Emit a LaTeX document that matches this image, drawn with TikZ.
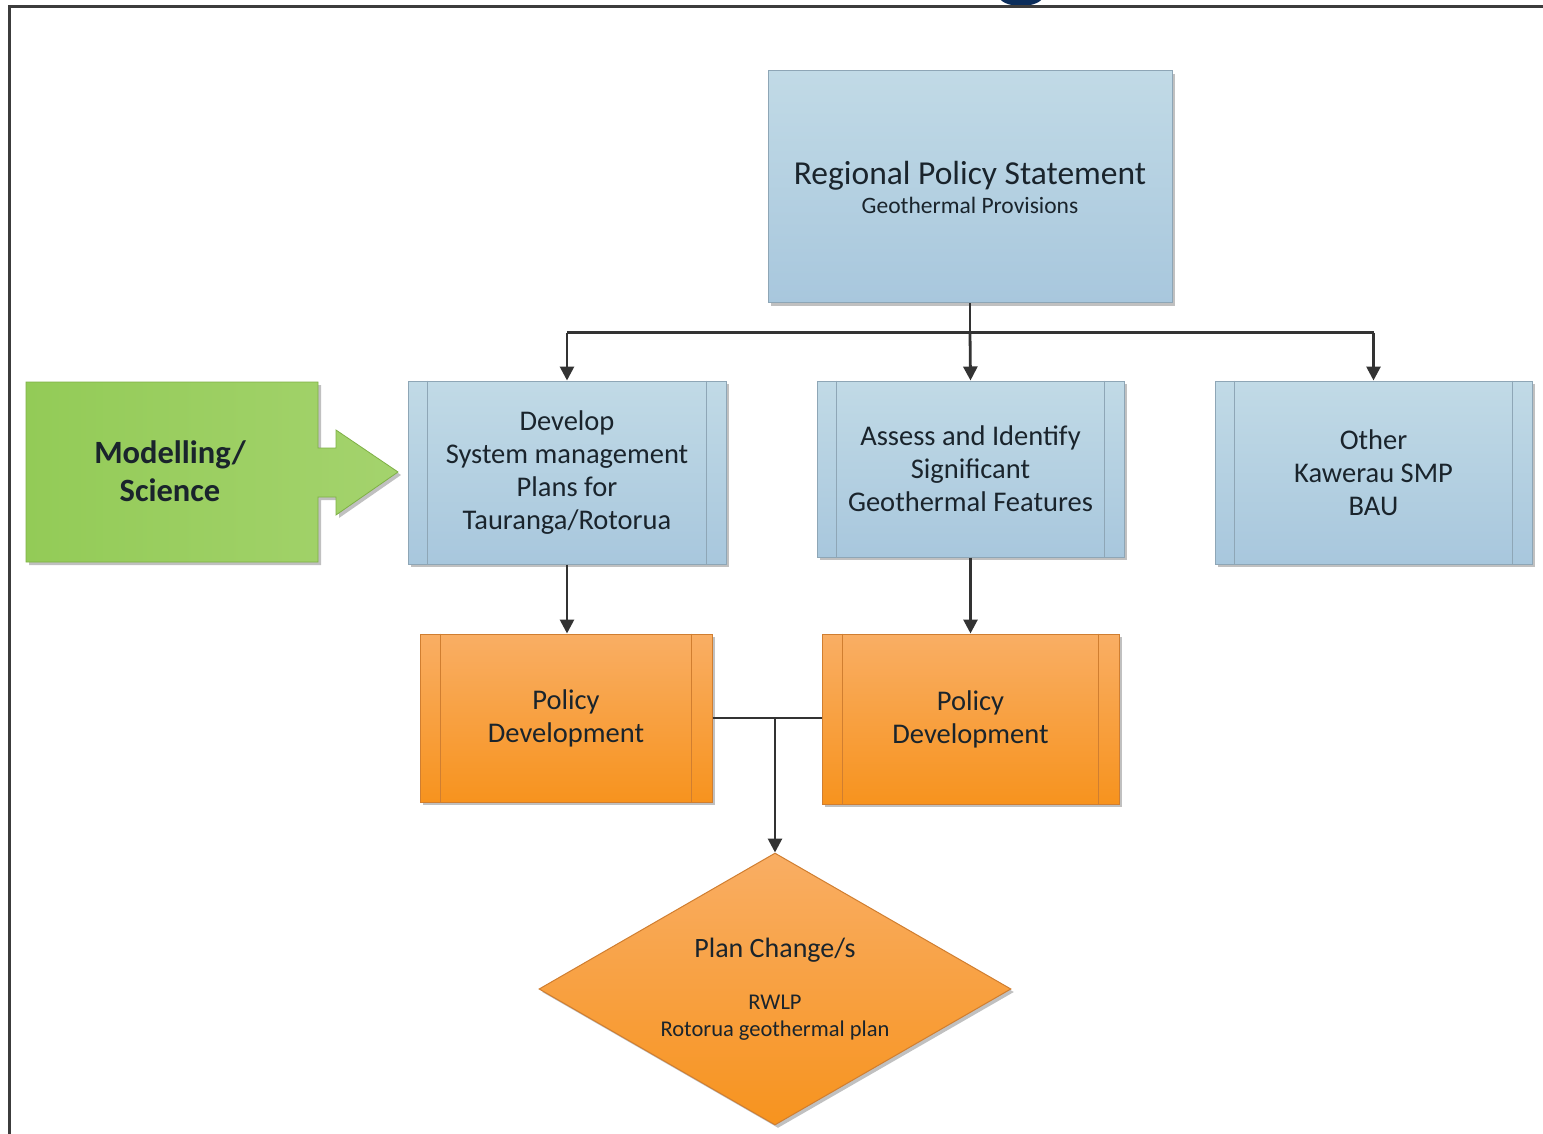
\documentclass[tikz,border=0pt]{standalone}
\usepackage{fontspec}
\setmainfont{Carlito}
\usetikzlibrary{arrows.meta,shapes.geometric,shadows,calc}
\definecolor{bluetop}{HTML}{C1DAE6}
\definecolor{bluebot}{HTML}{A8C7DD}
\definecolor{blueedge}{HTML}{8EA6B6}
\definecolor{orgtop}{HTML}{F9AE64}
\definecolor{orgbot}{HTML}{F7931E}
\definecolor{orgedge}{HTML}{D07E30}
\definecolor{grnl}{HTML}{93CB57}
\definecolor{grnr}{HTML}{A4D36D}
\definecolor{grnedge}{HTML}{7FB046}
\definecolor{txtc}{HTML}{1A242C}
\definecolor{framec}{HTML}{3C3C3C}
\definecolor{navyc}{HTML}{0B2D5B}
\definecolor{connc}{HTML}{333333}
\begin{document}
\begin{tikzpicture}[x=1pt,y=-1pt,
  shad/.style={drop shadow={shadow xshift=3pt,shadow yshift=-3pt,opacity=0.35,fill=black!70}},
  bluebox/.style={draw=blueedge,line width=1pt,top color=bluetop,bottom color=bluebot,shad,
    text=txtc,align=center,font=\fontsize{28.5}{33}\selectfont,inner sep=0pt},
  orangebox/.style={draw=orgedge,line width=1pt,top color=orgtop,bottom color=orgbot,shad,
    text=txtc,align=center,font=\fontsize{28.5}{33}\selectfont,inner sep=0pt},
  blueinner/.style={draw=blueedge,line width=1pt},
  orginner/.style={draw=orgedge,line width=1pt},
  conn/.style={draw=connc,line width=2.8pt},
  arr/.style={conn,-{Triangle[length=14pt,width=14pt]}}]
\useasboundingbox (0,0) rectangle (1543,1134);
\fill[white] (0,0) rectangle (1543,1134);
% cut-off title letter and frame
\fill[navyc] (1021,-4) ellipse [x radius=22, y radius=10];
\draw[framec,line width=3pt] (9.5,1134) -- (9.5,7) -- (1543,7);

% top box
\node[bluebox,minimum width=404pt,minimum height=232pt,font=\fontsize{23.5}{27}\selectfont] (rps) at (970,187)
  {{\fontsize{33.5}{34}\selectfont Regional Policy Statement}\\[2pt]Geothermal Provisions};

% second row
\node[bluebox,minimum width=318pt,minimum height=183pt] (dev) at (567,472.5)
  {Develop\\System management\\Plans for\\Tauranga/Rotorua};
\node[bluebox,minimum width=307pt,minimum height=176pt] (ass) at (970.5,469)
  {Assess and Identify\\Significant\\Geothermal Features};
\node[bluebox,minimum width=317pt,minimum height=183pt] (oth) at (1373.5,472.5)
  {Other\\Kawerau SMP\\BAU};
\foreach \n in {dev,ass,oth}{
  \draw[blueinner] ($(\n.north west)+(20,0)$) -- ($(\n.south west)+(20,0)$);
  \draw[blueinner] ($(\n.north east)+(-20,0)$) -- ($(\n.south east)+(-20,0)$);
}

% third row
\node[orangebox,minimum width=292pt,minimum height=168pt] (pd1) at (566,718)
  {Policy\\Development};
\node[orangebox,minimum width=297pt,minimum height=170pt] (pd2) at (970.5,719)
  {Policy\\Development};
\foreach \n in {pd1,pd2}{
  \draw[orginner] ($(\n.north west)+(21,0)$) -- ($(\n.south west)+(21,0)$);
  \draw[orginner] ($(\n.north east)+(-21,0)$) -- ($(\n.south east)+(-21,0)$);
}

% diamond
\node[diamond,draw=orgedge,line width=1pt,top color=orgtop,bottom color=orgbot,shad,
  minimum width=472pt,minimum height=272pt,inner sep=0pt] (plan) at (775,989) {};
\node[align=center,text=txtc,inner sep=0pt,font=\fontsize{22.5}{27}\selectfont] (plantext) at (plan.center)
  {{\fontsize{28}{27}\selectfont Plan Change/s}\\[25pt]RWLP\\Rotorua geothermal plan};

% green arrow
\path[left color=grnl,right color=grnr,draw=grnedge,line width=0.8pt,shad]
  (26,382) -- (318,382) -- (318,448) -- (336,448) -- (336,430) -- (398,472)
  -- (336,515) -- (336,497) -- (318,497) -- (318,562) -- (26,562) -- cycle;
\node[text=txtc,align=center,font=\bfseries\fontsize{32.5}{38}\selectfont] (mod) at (170,471)
  {Modelling/\\Science};

% connectors
\draw[conn] (rps.south) -- ($(rps.south)+(0,29)$) coordinate (bus);
\draw[conn] (dev.north |- bus) -- (oth.north |- bus);
\draw[arr] (bus) -- (ass.north);
\draw[arr] (dev.north |- bus) -- (dev.north);
\draw[arr] (oth.north |- bus) -- (oth.north);
\draw[arr] (dev.south) -- (pd1.north -| dev.south);
\draw[arr] (ass.south) -- (pd2.north);
\draw[conn] (pd1.east) -- (pd1.east -| pd2.west);
\coordinate (j) at (plan.north |- pd1.east);
\draw[arr] (j) -- (plan.north);
\end{tikzpicture}
\end{document}
